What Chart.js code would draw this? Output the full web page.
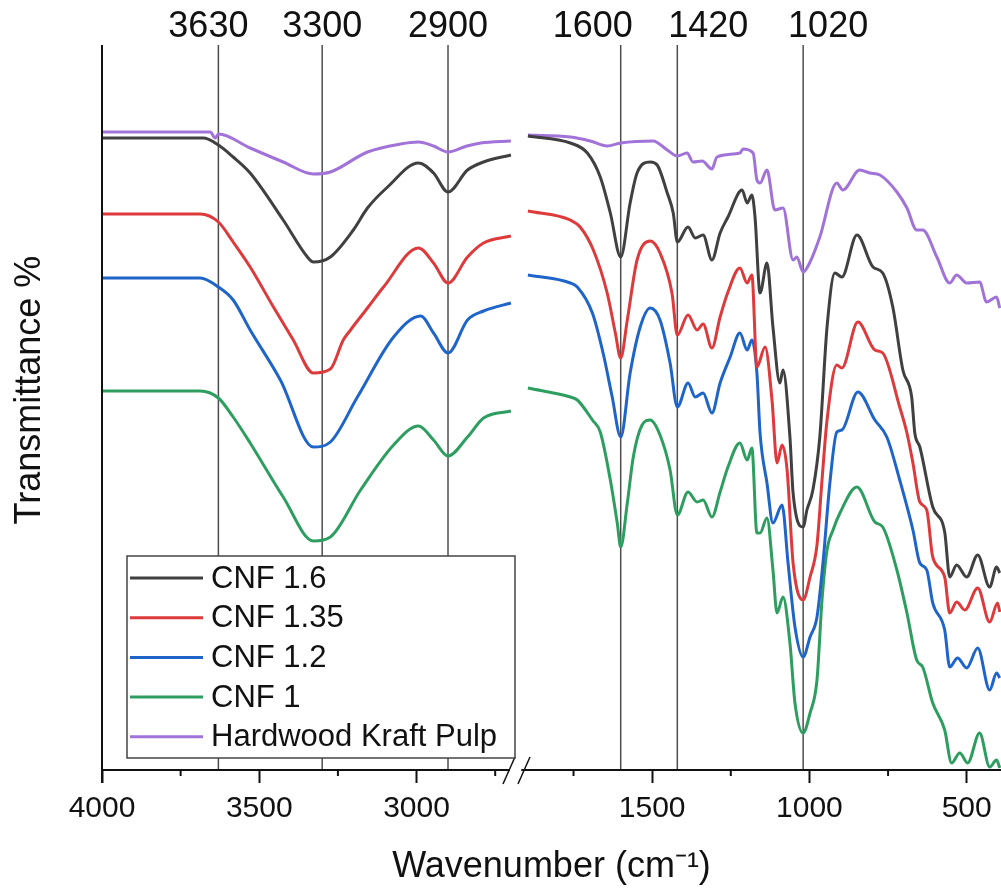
<!DOCTYPE html>
<html>
<head>
<meta charset="utf-8">
<script src="https://cdn.jsdelivr.net/npm/chart.js@4.4.1/dist/chart.umd.min.js"></script>
<style>
html,body{margin:0;padding:0;background:#fff;}
#c{display:block;}
</style>
</head>
<body>
<canvas id="c" width="1001" height="891"></canvas>
<script>
// ---------- DATA (wavenumber cm-1, transmittance in arbitrary offset units) ----------
const seriesNames = ['CNF 1.6', 'CNF 1.35', 'CNF 1.2', 'CNF 1', 'Hardwood Kraft Pulp'];
const majorTicks = [4000, 3500, 3000, 1500, 1000, 500];
const minorTicks = [3750, 3250, 2750, 1750, 1250, 750];
const peakLines = [3630, 3300, 2900, 1600, 1420, 1020];

const cnf16Left = [[4000,632],[3678,632],[3630,625],[3583,613],[3529,597],[3424,550],[3347,513],[3328,508],[3274,513],[3201,540],[3156,562],[3092,583],[2994,607],[2946,597],[2900,578],[2838,600],[2787,608],[2700,615]];
const cnf16Right = [[1895,634],[1760,627],[1706,617],[1665,593],[1633,557],[1600,513],[1570,567],[1548,597],[1506,608],[1484,605],[1452,577],[1433,557],[1420,528],[1386,543],[1363,532],[1338,535],[1310,510],[1284,537],[1259,553],[1214,580],[1198,567],[1183,575],[1173,553],[1157,477],[1135,507],[1116,443],[1094,387],[1084,400],[1062,333],[1052,277],[1020,243],[1008,260],[989,280],[967,333],[944,443],[919,497],[897,493],[849,535],[798,503],[767,497],[735,463],[703,400],[675,373],[665,337],[649,323],[608,263],[570,238],[554,193],[532,205],[500,193],[465,215],[427,183],[405,203],[395,197]];

const cnf135Left = [[4000,556],[3688,556],[3630,548],[3583,528],[3529,503],[3455,463],[3392,430],[3328,397],[3274,401],[3233,430],[3210,440],[3156,462],[3105,483],[2994,522],[2946,507],[2900,487],[2838,513],[2787,527],[2700,534]];
const cnf135Right = [[1895,559],[1760,550],[1729,543],[1687,520],[1643,477],[1617,437],[1600,412],[1579,450],[1548,510],[1506,529],[1475,517],[1437,477],[1420,435],[1386,455],[1357,440],[1338,446],[1310,422],[1284,453],[1259,478],[1221,502],[1198,487],[1183,495],[1167,403],[1141,423],[1119,370],[1103,307],[1087,325],[1071,300],[1052,207],[1020,170],[998,193],[976,225],[960,290],[944,350],[913,405],[897,402],[846,448],[792,420],[767,417],[713,363],[690,337],[671,307],[649,268],[627,260],[608,213],[570,193],[554,157],[532,168],[506,160],[465,182],[427,148],[402,167],[395,158]];

const cnf12Left = [[4000,492],[3688,492],[3630,483],[3583,470],[3529,440],[3433,390],[3328,323],[3274,328],[3188,373],[3073,433],[2987,454],[2946,437],[2900,417],[2838,450],[2787,459],[2700,467]];
const cnf12Right = [[1895,495],[1760,487],[1738,483],[1690,457],[1656,417],[1627,373],[1600,333],[1570,397],[1538,443],[1506,462],[1475,450],[1443,407],[1420,363],[1386,387],[1363,373],[1338,377],[1310,357],[1284,387],[1252,413],[1221,437],[1198,420],[1183,430],[1167,397],[1157,337],[1135,287],[1116,247],[1087,265],[1068,207],[1046,143],[1020,113],[998,133],[976,153],[957,207],[935,287],[913,338],[897,340],[846,378],[792,350],[754,333],[713,290],[671,240],[649,207],[627,200],[608,167],[570,140],[554,103],[529,112],[500,102],[465,122],[427,80],[405,97],[395,92]];

const cnf1Left = [[4000,379],[3688,379],[3630,372],[3583,353],[3529,327],[3424,273],[3328,229],[3274,233],[3178,280],[3073,325],[2994,344],[2946,330],[2900,314],[2838,333],[2787,352],[2700,359]];
const cnf1Right = [[1895,382],[1760,373],[1738,370],[1690,350],[1665,338],[1633,290],[1611,247],[1600,223],[1579,267],[1560,313],[1532,345],[1506,350],[1475,335],[1443,300],[1420,255],[1386,278],[1357,268],[1338,270],[1310,253],[1284,278],[1259,303],[1221,327],[1198,310],[1183,322],[1167,237],[1157,237],[1135,252],[1116,200],[1103,157],[1084,173],[1062,127],[1046,67],[1020,37],[998,57],[976,90],[960,170],[944,220],[925,240],[903,257],[849,283],[792,248],[767,243],[722,200],[690,157],[659,110],[640,103],[608,67],[570,40],[548,7],[522,17],[497,7],[459,37],[427,3],[405,10],[395,2]];

const hkpLeft = [[4000,638],[3690,638],[3656,638],[3640,632],[3630,636],[3529,622],[3424,608],[3328,596],[3274,598],[3156,618],[3051,626],[2994,628],[2946,624],[2900,618],[2840,624],[2796,627],[2700,629]];
const hkpRight = [[1895,635],[1760,633],[1697,629],[1643,624],[1600,627],[1497,629],[1452,620],[1420,614],[1389,617],[1370,608],[1341,609],[1310,601],[1294,613],[1221,617],[1211,621],[1179,617],[1167,590],[1157,587],[1135,600],[1110,560],[1084,562],[1052,510],[1040,513],[1020,498],[998,508],[967,533],[913,587],[894,580],[840,600],[808,597],[776,595],[722,578],[690,562],[659,540],[640,540],[595,513],[554,487],[532,495],[500,487],[459,488],[437,468],[405,473],[395,462]];

// ---------- STYLE ----------
const FONT = "'Liberation Sans', Arial, Helvetica, sans-serif";
const colors = ['#404040', '#de3a3c', '#1f65c9', '#2e9e60', '#a173d9'];
const peakLabelShift = [-10, 0, 0, -28, 31, 25];

// broken axis: map wavenumber to a continuous position
function toU(w) { return w >= 2200 ? 4000 - w : 3249 - w; }
function fromU(u) { return u <= 1325 ? 4000 - u : 3249 - u; }
function build(left, right) {
  return left.map(p => ({x: toU(p[0]), y: p[1]}))
    .concat([{x: 1325, y: null}])
    .concat(right.map(p => ({x: toU(p[0]), y: p[1]})));
}

const seriesData = [
  build(cnf16Left, cnf16Right),
  build(cnf135Left, cnf135Right),
  build(cnf12Left, cnf12Right),
  build(cnf1Left, cnf1Right),
  build(hkpLeft, hkpRight)
];

const decor = {
  id: 'decor',
  beforeDatasetsDraw(chart) {
    const {ctx, chartArea: a, scales: {x}} = chart;
    ctx.save();
    ctx.strokeStyle = '#4d4d4d';
    ctx.lineWidth = 1.5;
    peakLines.forEach(w => {
      const px = x.getPixelForValue(toU(w));
      ctx.beginPath(); ctx.moveTo(px, a.top); ctx.lineTo(px, a.bottom); ctx.stroke();
    });
    ctx.fillStyle = '#111';
    ctx.font = '36px ' + FONT;
    ctx.textAlign = 'center';
    ctx.textBaseline = 'alphabetic';
    peakLines.forEach((w, i) => {
      ctx.fillText(String(w), x.getPixelForValue(toU(w)) + peakLabelShift[i], 37);
    });
    ctx.restore();
  },
  afterDraw(chart) {
    const {ctx, chartArea: a, scales: {x}} = chart;
    ctx.save();
    ctx.strokeStyle = '#111';
    ctx.lineWidth = 2;
    // left axis (extends down as the 4000 tick)
    ctx.beginPath(); ctx.moveTo(a.left, a.top); ctx.lineTo(a.left, a.bottom + 13); ctx.stroke();
    // bottom axis with break
    const bL = x.getPixelForValue(1297), bR = x.getPixelForValue(1333);
    ctx.beginPath(); ctx.moveTo(a.left, a.bottom); ctx.lineTo(bL, a.bottom); ctx.stroke();
    ctx.beginPath(); ctx.moveTo(bR, a.bottom); ctx.lineTo(a.right, a.bottom); ctx.stroke();
    ctx.lineWidth = 1.5;
    ctx.beginPath(); ctx.moveTo(bL - 7, a.bottom + 14); ctx.lineTo(bL + 5, a.bottom - 13); ctx.stroke();
    ctx.beginPath(); ctx.moveTo(bL + 8, a.bottom + 14); ctx.lineTo(bL + 20, a.bottom - 13); ctx.stroke();
    // minor ticks
    ctx.lineWidth = 2;
    minorTicks.forEach(w => {
      const px = x.getPixelForValue(toU(w));
      ctx.beginPath(); ctx.moveTo(px, a.bottom); ctx.lineTo(px, a.bottom + 6); ctx.stroke();
    });
    // y title
    ctx.fillStyle = '#111';
    ctx.font = '36px ' + FONT;
    ctx.textAlign = 'center';
    ctx.textBaseline = 'middle';
    ctx.translate(30, 390);
    ctx.rotate(-Math.PI / 2);
    ctx.fillText('Transmittance %', 0, 0);
    ctx.restore();

    // legend
    ctx.save();
    const lx = 127, ly = 556, lw = 388, lh = 202;
    ctx.fillStyle = '#fff';
    ctx.fillRect(lx, ly, lw, lh);
    ctx.strokeStyle = '#444';
    ctx.lineWidth = 1.5;
    ctx.strokeRect(lx, ly, lw, lh);
    ctx.font = '31px ' + FONT;
    ctx.textAlign = 'left';
    ctx.textBaseline = 'middle';
    chart.data.datasets.forEach((ds, i) => {
      const cy = 578 + i * 39.7;
      ctx.strokeStyle = ds.borderColor;
      ctx.lineWidth = 3;
      ctx.beginPath(); ctx.moveTo(130, cy); ctx.lineTo(203, cy); ctx.stroke();
      ctx.fillStyle = '#111';
      ctx.fillText(ds.label, 211, cy + 1);
    });
    ctx.restore();
  }
};

new Chart(document.getElementById('c'), {
  type: 'line',
  data: {
    datasets: seriesNames.map((name, i) => ({
      label: name,
      data: seriesData[i],
      borderColor: colors[i],
      backgroundColor: colors[i],
      borderWidth: 3,
      pointRadius: 0,
      cubicInterpolationMode: 'monotone',
      fill: false,
      spanGaps: false
    }))
  },
  options: {
    responsive: false,
    animation: false,
    devicePixelRatio: 1,
    layout: {padding: {top: 45, left: 0, right: 0, bottom: 0}},
    plugins: {legend: {display: false}, tooltip: {enabled: false}},
    scales: {
      x: {
        type: 'linear',
        min: 0,
        max: 2858,
        afterBuildTicks: s => { s.ticks = majorTicks.map(w => ({value: toU(w)})); },
        afterFit: s => { s.height = 121; },
        ticks: {
          autoSkip: false, maxRotation: 0, minRotation: 0, padding: 8,
          color: '#111', font: {family: FONT, size: 30},
          callback: v => String(Math.round(fromU(v)))
        },
        grid: {display: true, drawOnChartArea: false, drawTicks: true, tickLength: 13, tickWidth: 2, tickColor: '#111'},
        border: {display: false},
        title: {display: true, text: 'Wavenumber (cm\u207B\u00B9)', color: '#111', font: {family: FONT, size: 36}, padding: {top: 0, bottom: 2}}
      },
      y: {
        min: 0,
        max: 725,
        afterFit: s => { s.width = 102; },
        ticks: {display: false},
        grid: {display: false},
        border: {display: false},
        title: {display: false}
      }
    }
  },
  plugins: [decor]
});
</script>
</body>
</html>
